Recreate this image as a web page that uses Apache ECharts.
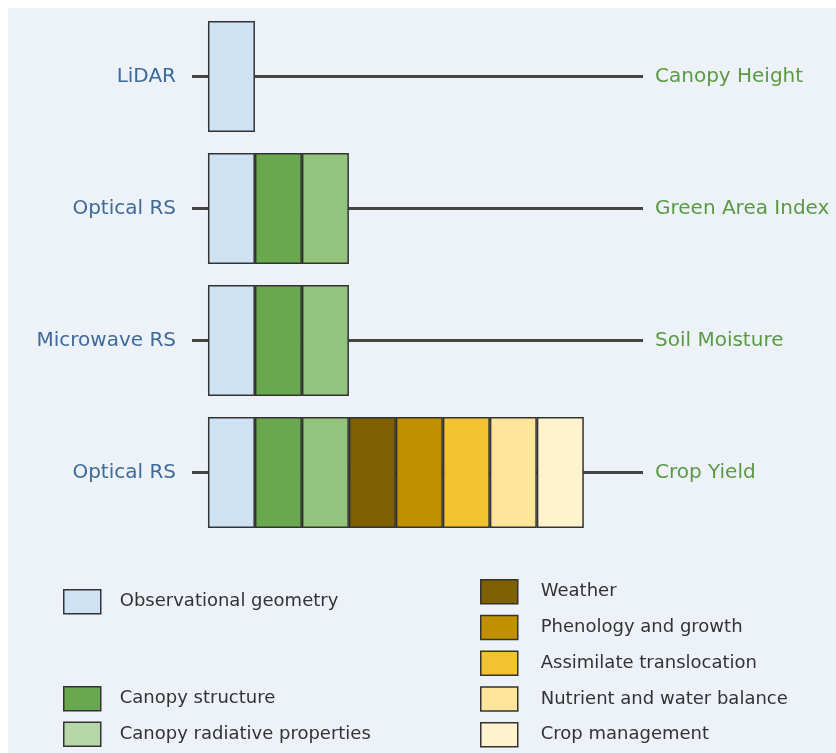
<!DOCTYPE html>
<html>
<head>
<meta charset="utf-8">
<script src="https://cdn.jsdelivr.net/npm/echarts@6/dist/echarts.min.js"></script>
<style>
  html, body { margin: 0; padding: 0; background: #ffffff; }
  #main { width: 836px; height: 753px; }
</style>
</head>
<body>
<div id="main"></div>
<script>
// rows: data source on the left, retrieved variable on the right
const sources = ['LiDAR', 'Optical RS', 'Microwave RS', 'Optical RS'];
const outputs = ['Canopy Height', 'Green Area Index', 'Soil Moisture', 'Crop Yield'];
// how many factors (from the left) each row depends on
const factorCount = [1, 3, 3, 8];
const factors = [
  'Observational geometry',
  'Canopy structure',
  'Canopy radiative properties',
  'Weather',
  'Phenology and growth',
  'Assimilate translocation',
  'Nutrient and water balance',
  'Crop management'
];
const factorColors = ['#cfe2f3', '#6aa84f', '#93c47d', '#7f6000', '#bf9000', '#f1c232', '#ffe599', '#fff2cc'];

const X_MIN = -0.34;
const X_MAX = 9.26;
const font = 'DejaVu Sans';

const myChart = echarts.init(document.getElementById('main'));

const rowKeys = sources.map((s, i) => String(i));

const barSeries = factors.map((name, f) => ({
  name: name,
  type: 'bar',
  stack: 'factors',
  barWidth: 111,
  z: 3,
  itemStyle: { color: factorColors[f], borderColor: '#333', borderWidth: 1.5 },
  emphasis: { disabled: true },
  data: factorCount.map(n => (f < n ? 1 : '-'))
}));

const linkSeries = {
  name: 'links',
  type: 'custom',
  z: 1,
  silent: true,
  encode: { x: 0, y: 1 },
  data: sources.map((s, i) => [0, i]),
  renderItem: function (params, api) {
    const row = api.value(1);
    const a = api.coord([X_MIN, row]);
    const b = api.coord([X_MAX, row]);
    return {
      type: 'line',
      shape: { x1: a[0], y1: a[1], x2: b[0], y2: b[1] },
      style: { stroke: '#444', lineWidth: 3 }
    };
  }
};

const legendBase = {
  orient: 'vertical',
  selectedMode: false,
  padding: 0,
  itemWidth: 37,
  itemHeight: 24,
  icon: 'rect',
  itemStyle: { borderColor: '#333', borderWidth: 1.5 },
  textStyle: { fontFamily: font, fontSize: 18, color: '#333' }
};

myChart.setOption({
  backgroundColor: '#ffffff',
  animation: false,
  graphic: [{
    type: 'rect',
    z: -10,
    silent: true,
    shape: { x: 8, y: 8, width: 828, height: 745 },
    style: { fill: '#edf1f8' }
  }],
  grid: { left: 192, right: 193, top: 10.5, bottom: 214.5, outerBoundsMode: 'none' },
  xAxis: { type: 'value', min: X_MIN, max: X_MAX, show: false },
  yAxis: [{
    type: 'category',
    inverse: true,
    data: rowKeys,
    axisLine: { show: false },
    axisTick: { show: false },
    axisLabel: {
      margin: 16,
      fontFamily: font,
      fontSize: 20,
      color: '#3d6b9b',
      formatter: (v, i) => sources[i]
    }
  }, {
    type: 'category',
    position: 'right',
    inverse: true,
    data: rowKeys,
    axisLine: { show: false },
    axisTick: { show: false },
    axisLabel: {
      margin: 12,
      fontFamily: font,
      fontSize: 20,
      color: '#5b9a44',
      formatter: (v, i) => outputs[i]
    }
  }],
  legend: [
    Object.assign({}, legendBase, {
      left: 63, top: 589, height: 100,
      textStyle: Object.assign({}, legendBase.textStyle, { padding: [0, 0, 0, 14] }),
      data: [factors[0]]
    }),
    Object.assign({}, legendBase, {
      left: 63, top: 686, itemGap: 10, height: 100,
      textStyle: Object.assign({}, legendBase.textStyle, { padding: [0, 0, 0, 14] }),
      data: [factors[1], { name: factors[2], itemStyle: { color: '#b6d7a8' } }]
    }),
    Object.assign({}, legendBase, {
      left: 480, top: 579, itemGap: 10.25, height: 200,
      textStyle: Object.assign({}, legendBase.textStyle, { padding: [0, 0, 0, 18] }),
      data: factors.slice(3)
    })
  ],
  series: [linkSeries].concat(barSeries)
});

window.onresize = function () {
  myChart.resize();
};
</script>
</body>
</html>
